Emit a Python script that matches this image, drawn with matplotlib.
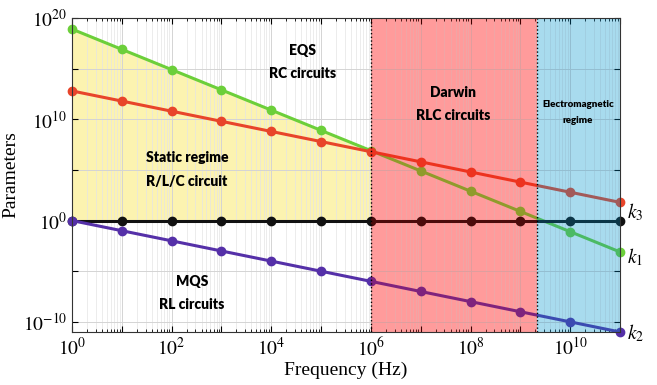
import numpy as np
import matplotlib.pyplot as plt
from matplotlib.ticker import LogLocator, NullFormatter, FuncFormatter

plt.rcParams["mathtext.fontset"] = "stix"
plt.rcParams["font.family"] = "Liberation Serif"

# frequency points (Hz), one per decade
freq = [1e0, 1e1, 1e2, 1e3, 1e4, 1e5, 1e6, 1e7, 1e8, 1e9, 1e10, 1e11]
# parameter values
k1 = [8e18, 8e16, 8e14, 8e12, 8e10, 8e8, 8e6, 8e4, 8e2, 8e0, 8e-2, 8e-4]
k3 = [6.3e12, 6.3e11, 6.3e10, 6.3e9, 6.3e8, 6.3e7, 6.3e6, 6.3e5, 6.3e4, 6.3e3, 6.3e2, 6.3e1]
k0 = [1, 1, 1, 1, 1, 1, 1, 1, 1, 1, 1, 1]
k2 = [1e0, 1e-1, 1e-2, 1e-3, 1e-4, 1e-5, 1e-6, 1e-7, 1e-8, 1e-9, 1e-10, 1e-11]

f_static = 1e6      # end of static regime
f_darwin = 2.15e9   # end of Darwin regime

fig = plt.figure(figsize=(6.57, 3.85), dpi=100)
ax = fig.add_axes([72 / 657, 53 / 385, 548 / 657, 314 / 385])
ax.set_xscale("log")
ax.set_yscale("log")
ax.set_xlim(1e0, 1e11)
ax.set_ylim(1e-11, 1e20)

# yellow static region between k0 and k1
n_static = freq.index(f_static) + 1
ax.fill_between(freq[:n_static], k0[:n_static], k1[:n_static],
                color="#fcf3b0", zorder=1, lw=0)

# Darwin / electromagnetic regions: light base under curves + tint over them
ax.axvspan(f_static, f_darwin, color="#ffcfcf", lw=0, zorder=0.5)
ax.axvspan(f_darwin, 1e11, color="#f1feff", lw=0, zorder=0.5)
ax.axvspan(f_static, f_darwin, color="#ff0000", alpha=0.25, lw=0, zorder=4)
ax.axvspan(f_darwin, 1e11, color="#008cc8", alpha=0.3, lw=0, zorder=4)

# curves
ax.plot(freq, k1, "-o", color="#6ccf3a", lw=2.2, ms=6, zorder=3, clip_on=False)
ax.plot(freq, k3, "-o", color="#e8452a", lw=2.2, ms=6, zorder=3, clip_on=False)
ax.plot(freq, k0, "-o", color="#111111", lw=2.2, ms=6, zorder=3, clip_on=False)
ax.plot(freq, k2, "-o", color="#5530a8", lw=2.2, ms=6, zorder=3, clip_on=False)

ax.axvline(f_static, color="black", ls=":", lw=1.0, zorder=5)
ax.axvline(f_darwin, color="black", ls=":", lw=1.0, zorder=5)

# grid
ax.grid(True, which="major", color="#d4d4d4", lw=0.7)
ax.grid(True, which="minor", axis="x", color="#e4e4e4", lw=0.5)
for gl in ax.get_xgridlines() + ax.get_ygridlines():
    gl.set_zorder(2)

# ticks
ax.xaxis.set_major_locator(LogLocator(base=10, numticks=20))
ax.xaxis.set_minor_locator(LogLocator(base=10, subs=np.arange(2, 10), numticks=50))
ax.xaxis.set_minor_formatter(NullFormatter())
ax.xaxis.set_major_formatter(FuncFormatter(
    lambda v, p: r"$10^{%d}$" % round(np.log10(v)) if round(np.log10(v)) % 2 == 0 else ""))
ax.set_yticks([1e-10, 1e-5, 1e0, 1e5, 1e10, 1e15, 1e20])
ax.yaxis.set_minor_locator(plt.NullLocator())
ax.yaxis.set_major_formatter(FuncFormatter(
    lambda v, p: r"$10^{%d}$" % round(np.log10(v)) if round(np.log10(v)) % 10 == 0 else ""))
ax.tick_params(which="both", direction="in", top=True, right=True, labelsize=14)
ax.tick_params(which="major", length=4)
ax.tick_params(which="minor", length=2)
for s in ax.spines.values():
    s.set_color("#333333")
    s.set_zorder(6)

ax.set_xlabel("Frequency (Hz)", fontsize=14, labelpad=2, family="Liberation Serif")
ax.set_ylabel("Parameters", fontsize=14, labelpad=2, family="Liberation Serif")

# regime annotations
tkw = dict(ha="center", va="center", fontsize=10, fontweight="heavy",
           family="Lato", zorder=7)
ax.text(10**4.62, 10**16.8, "EQS", **tkw)
ax.text(10**4.62, 10**14.55, "RC circuits", **tkw)
ax.text(10**2.31, 10**6.27, "Static regime", **tkw)
ax.text(10**2.31, 10**3.9, "R/L/C circuit", **tkw)
ax.text(10**2.41, 10**-6.05, "MQS", **tkw)
ax.text(10**2.41, 10**-8.3, "RL circuits", **tkw)
ax.text(10**7.65, 10**12.67, "Darwin", **tkw)
ax.text(10**7.65, 10**10.4, "RLC circuits", **tkw)
tkw["fontsize"] = 7
ax.text(10**10.16, 10**11.5, "Electromagnetic", **tkw)
ax.text(10**10.16, 10**9.9, "regime", **tkw)

# curve names at the right edge
ax.text(10**11.15, 10**0.8, r"$k_3$", fontsize=14, va="center", ha="left")
ax.text(10**11.15, 10**-3.6, r"$k_1$", fontsize=14, va="center", ha="left")
ax.text(10**11.15, 10**-11.1, r"$k_2$", fontsize=14, va="center", ha="left")

fig.savefig("out.png", dpi=100)
